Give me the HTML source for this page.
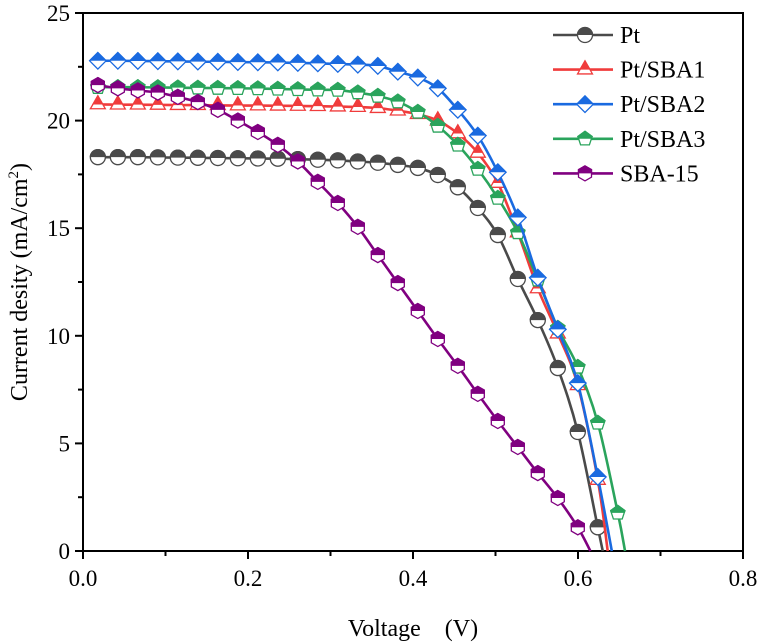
<!DOCTYPE html>
<html><head><meta charset="utf-8"><style>
body{margin:0;background:#fff;}
svg{display:block;}
svg text{font-family:"Liberation Serif","Times New Roman",serif;}
</style></head><body>
<svg id="chart" width="762" height="644" viewBox="0 0 762 644" font-family="Liberation Serif, serif"></svg>
<script>
const voltageStart = 0.018, voltageStep = 0.02424;
const ptValues = [18.3,18.3,18.3,18.29,18.28,18.27,18.26,18.25,18.24,18.23,18.21,18.18,18.15,18.1,18.04,17.94,17.8,17.47,16.9,15.94,14.68,12.64,10.73,8.5,5.53,1.1];
const sba1Values = [20.75,20.74,20.74,20.73,20.72,20.72,20.71,20.7,20.7,20.69,20.68,20.67,20.65,20.63,20.58,20.46,20.3,20.0,19.4,18.5,17.1,14.8,12.2,10.1,7.7,3.3];
const sba2Values = [22.78,22.78,22.77,22.76,22.75,22.74,22.73,22.72,22.71,22.7,22.68,22.66,22.63,22.6,22.54,22.27,22.0,21.5,20.5,19.3,17.6,15.5,12.7,10.3,7.8,3.44];
const sba3Values = [21.55,21.55,21.55,21.54,21.53,21.52,21.51,21.5,21.49,21.47,21.45,21.43,21.42,21.3,21.14,20.88,20.4,19.75,18.87,17.75,16.4,14.8,12.6,10.36,8.55,5.95,1.77];
const sba15Values = [21.65,21.5,21.4,21.3,21.1,20.86,20.5,20.0,19.47,18.87,18.1,17.15,16.17,15.06,13.75,12.45,11.15,9.85,8.6,7.3,6.04,4.83,3.62,2.46,1.1];
const vocValues = [0.63,0.636,0.641,0.657,0.615];
const seriesNames = ["Pt","Pt/SBA1","Pt/SBA2","Pt/SBA3","SBA-15"];
const xTicks = [0,0.2,0.4,0.6,0.8];
const xTickLabels = ["0.0","0.2","0.4","0.6","0.8"];
const yTicks = [0,5,10,15,20,25];
const yTickLabels = ["0","5","10","15","20","25"];

const NS="http://www.w3.org/2000/svg";
const svg=document.getElementById('chart');
const X0=83,X1=743,Y0=551,Y1=13;
const FF='"Liberation Serif", serif';
const xs=v=>X0+(v-0)/(0.8)*(X1-X0);
const ys=v=>Y0-(v/25)*(Y0-Y1);
function mk(tag,attrs,parent){const e=document.createElementNS(NS,tag);for(const k in attrs)e.setAttribute(k,attrs[k]);if(tag==='text')e.setAttribute('font-family',FF);(parent||svg).appendChild(e);return e;}

const frame=mk('rect',{x:X0,y:Y1,width:X1-X0,height:Y0-Y1,fill:'none',stroke:'#000','stroke-width':2});



xTicks.forEach((t,i)=>{
  const l=mk('line',{x1:xs(t),x2:xs(t),y1:Y0,y2:Y0+8,stroke:'#000','stroke-width':2});
  
  
  if(i<xTicks.length-1){const m=mk('line',{x1:xs(t+0.1),x2:xs(t+0.1),y1:Y0,y2:Y0+5,stroke:'#000','stroke-width':2});
    
    }
  const tx=mk('text',{x:xs(t),y:Y0+35,'font-size':23,'text-anchor':'middle'});tx.textContent=xTickLabels[i];
  
  
});
yTicks.forEach((t,i)=>{
  const l=mk('line',{x1:X0-8,x2:X0,y1:ys(t),y2:ys(t),stroke:'#000','stroke-width':2});
  
  
  if(i<yTicks.length-1){const m=mk('line',{x1:X0-5,x2:X0,y1:ys(t+2.5),y2:ys(t+2.5),stroke:'#000','stroke-width':2});
    
    }
  const tx=mk('text',{x:X0-13,y:ys(t)+8,'font-size':23,'text-anchor':'end'});tx.textContent=yTickLabels[i];
  
  
});
const xt=mk('text',{x:413,y:636,'font-size':24,'text-anchor':'middle'});
xt.textContent='Voltage\u3000(V)';


const yt=mk('text',{x:0,y:0,'font-size':24,'text-anchor':'middle',transform:'translate(27,282) rotate(-90)'});
yt.innerHTML='Current desity (mA/cm<tspan font-size="15" dy="-9">2</tspan><tspan dy="9">)</tspan>';



const colors=['#4a4a4a','#f03c3c','#1a6ae0','#2aa45c','#800080'];
const allValues=[ptValues,sba1Values,sba2Values,sba3Values,sba15Values];
const shapes=['circle','triangle','diamond','pentagon','hexagon'];

function shapePts(shape,cx,cy,r){
  let n,rot;
  if(shape==='triangle'){n=3;rot=-90;r*=1.15;}
  else if(shape==='diamond'){n=4;rot=-90;r*=1.1;}
  else if(shape==='pentagon'){n=5;rot=-90;}
  else {n=6;rot=-90;}
  const p=[];for(let k=0;k<n;k++){const a=(rot+360*k/n)*Math.PI/180;p.push([cx+r*Math.cos(a),cy+r*Math.sin(a)]);}
  return p;
}
let clipCount=0;
function drawMarker(g,shape,cx,cy,color){
  const r=7.5;const id='clip'+(clipCount++);
  const cp=mk('clipPath',{id:id},g);mk('rect',{x:cx-12,y:cy-12,width:24,height:12},cp);
  let el;
  if(shape==='circle'){
    el=mk('circle',{cx:cx,cy:cy,r:r,fill:'#fff',stroke:color,'stroke-width':1.3},g);
    mk('circle',{cx:cx,cy:cy,r:r,fill:color,stroke:color,'stroke-width':1.3,'clip-path':'url(#'+id+')'},g);
  } else {
    const pts=shapePts(shape,cx,cy,r).map(p=>p.join(',')).join(' ');
    el=mk('polygon',{points:pts,fill:'#fff',stroke:color,'stroke-width':1.3},g);
    mk('polygon',{points:pts,fill:color,stroke:color,'stroke-width':1.3,'clip-path':'url(#'+id+')'},g);
  }
  return el;
}
function smoothPath(P){
  let d='M'+P[0][0]+','+P[0][1];
  for(let i=0;i<P.length-1;i++){
    const p0=P[i-1]||P[i],p1=P[i],p2=P[i+1],p3=P[i+2]||P[i+1];
    const c1=[p1[0]+(p2[0]-p0[0])/6,p1[1]+(p2[1]-p0[1])/6];
    const c2=[p2[0]-(p3[0]-p1[0])/6,p2[1]-(p3[1]-p1[1])/6];
    d+=' C'+c1.join(',')+' '+c2.join(',')+' '+p2.join(',');
  }
  return d;
}
const order=[0,1,3,2,4];
order.forEach(s=>{
  const vals=allValues[s];
  const g=mk('g',{});
  
  
  const P=vals.map((v,i)=>[xs(voltageStart+voltageStep*i),ys(v)]);
  P.push([xs(vocValues[s]),ys(0)]);
  const path=mk('path',{d:smoothPath(P),fill:'none',stroke:colors[s],'stroke-width':2.6},g);
  
  
  vals.forEach((v,i)=>{
    const m=drawMarker(g,shapes[s],xs(voltageStart+voltageStep*i),ys(v),colors[s]);
    
    
  });
});

seriesNames.forEach((n,s)=>{
  const y=35+34.6*s;
  const g=mk('g',{});
  
  
  mk('line',{x1:553,x2:613,y1:y,y2:y,stroke:colors[s],'stroke-width':2.6},g);
  drawMarker(g,shapes[s],585,y,colors[s]);
  const t=mk('text',{x:620,y:y+8,'font-size':24},g);t.textContent=n;
  
  
});
</script>
</body></html>
